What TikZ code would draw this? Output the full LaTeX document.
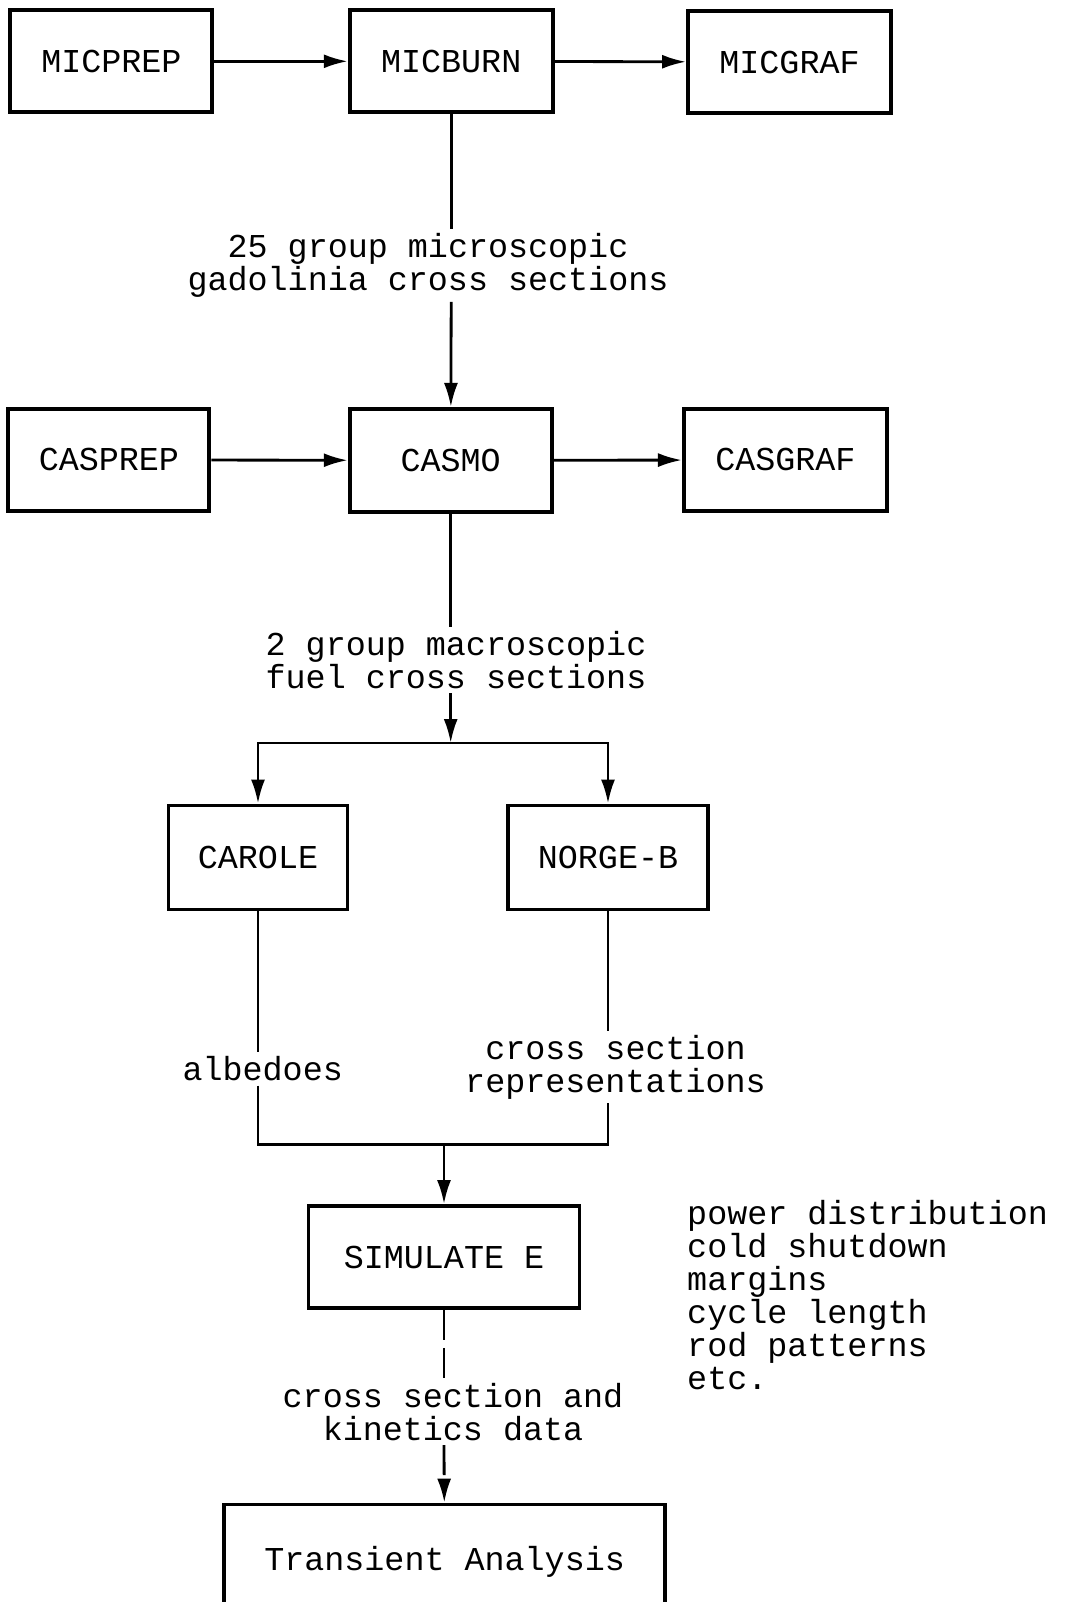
\documentclass[tikz,border=0pt]{standalone}
\usepackage{fontspec}
\setmainfont{Liberation Mono}
\usepackage{tikz}
\usetikzlibrary{arrows.meta}

\begin{document}
\begin{tikzpicture}[
  prog/.style={draw, line width=1.1pt, minimum height=1.02cm, inner sep=0pt, font=\fontsize{9.5}{9.4}\selectfont},
  flowlbl/.style={align=center, inner sep=1pt, font=\fontsize{9.5}{9.4}\selectfont},
  flow/.style={line width=0.8pt, -{Latex[length=2.4mm,width=1.4mm]}},
  plain/.style={line width=0.8pt}]
\useasboundingbox (0,0) rectangle (10.65,-16.02);
% top row
\node[prog, minimum width=2.02cm] (micprep) at (1.114,-0.613) {MICPREP};
\node[prog, minimum width=2.03cm] (micburn) at (4.512,-0.613) {MICBURN};
\node[prog, minimum width=2.03cm] (micgraf) at (7.895,-0.62) {MICGRAF};
\draw[flow] (micprep) -- (micburn);
\draw[flow] (micburn) -- (micgraf);
\node[flowlbl] (gdlbl) at (4.28,-2.657) {25 group microscopic\\gadolinia cross sections};
\draw[plain] (micburn) -- (micburn |- gdlbl.north);
% second row
\node[prog, minimum width=2.01cm] (casprep) at (1.089,-4.599) {CASPREP};
\node[prog, minimum width=2.02cm, minimum height=1.03cm] (casmo) at (4.507,-4.604) {CASMO};
\node[prog, minimum width=2.03cm] (casgraf) at (7.854,-4.599) {CASGRAF};
\draw[flow] (micburn |- gdlbl.south) -- (casmo);
\draw[flow] (casprep) -- (casmo);
\draw[flow] (casmo) -- (casgraf);
\node[flowlbl] (fuellbl) at (4.56,-6.60) {2 group macroscopic\\fuel cross sections};
\draw[plain] (casmo) -- (casmo |- fuellbl.north);
% branch
\coordinate (splity) at (0,-7.43);
\coordinate (split) at (casmo |- splity);
\node[prog, minimum width=1.79cm, minimum height=1.04cm] (carole) at (2.58,-8.575) {CAROLE};
\node[prog, minimum width=2.00cm, minimum height=1.04cm] (norge) at (6.08,-8.575) {NORGE-B};
\draw[flow] (casmo |- fuellbl.south) -- (split);
\draw[flow] (split) -| (carole);
\draw[flow] (split) -| (norge);
\node[flowlbl] (albedo) at (2.627,-10.69) {albedoes};
\node[flowlbl] (reprlbl) at (6.155,-10.67) {cross section\\representations};
\draw[plain] (carole) -- (carole |- albedo.north);
\draw[plain] (norge) -- (norge |- reprlbl.north);
% merge
\node[prog, minimum width=2.71cm] (simulate) at (4.44,-12.57) {SIMULATE E};
\coordinate (mergey) at (0,-11.446);
\coordinate (merge) at (simulate |- mergey);
\draw[plain] (carole |- albedo.south) |- (merge);
\draw[plain] (norge |- reprlbl.south) |- (merge);
\draw[flow] (merge) -- (simulate);
\node[flowlbl, align=left, anchor=north west] (results) at (6.83,-11.96) {power distribution\\cold shutdown\\margins\\cycle length\\rod patterns\\etc.};
% transient
\node[flowlbl] (kinlbl) at (4.53,-14.12) {cross section and\\kinetics data};
\node[prog, minimum width=4.415cm, minimum height=1.15cm] (transient) at (4.446,-15.62) {Transient Analysis};
\draw[plain, dash pattern=on 3mm off 0.8mm] (simulate) -- (simulate |- kinlbl.north);
\draw[flow, dash pattern=on 3mm off 0.8mm] (simulate |- kinlbl.south) -- (transient);
\end{tikzpicture}
\end{document}
